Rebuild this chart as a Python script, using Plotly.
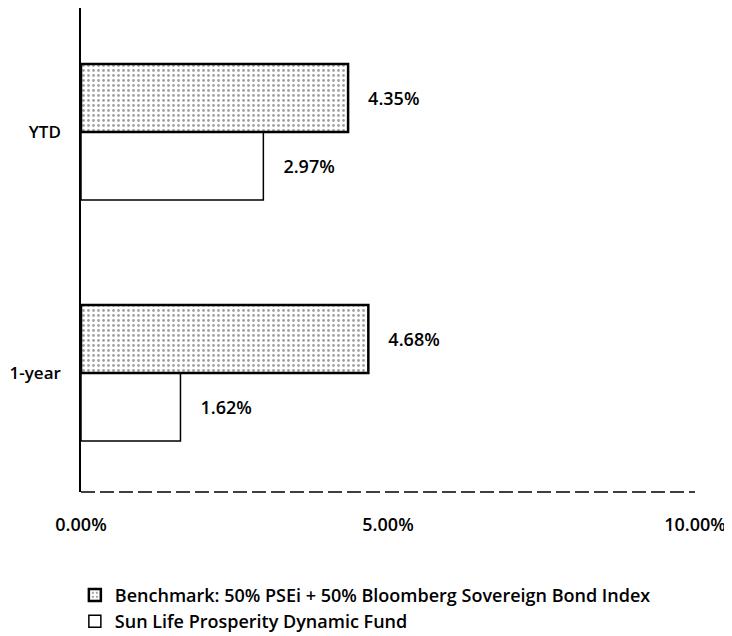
import plotly.graph_objects as go

categories = ["1-year", "YTD"]
fund_values = [1.62, 2.97]
benchmark_values = [4.68, 4.35]
fund_name = "Sun Life Prosperity Dynamic Fund"
benchmark_name = "Benchmark: 50% PSEi + 50% Bloomberg Sovereign Bond Index"
x_tick_vals = [0, 5, 10]
x_tick_text = ["0.00%", "5.00%", "10.00%"]

FONT = "Open Sans"
FS = 18
W = 600
pad = "\u00a0" * 3 + "\u2009"

fig = go.Figure()
fig.add_trace(go.Bar(
    y=categories, x=fund_values, orientation="h", name=fund_name,
    marker=dict(color="white", line=dict(color="black", width=1.5)),
    text=[f"{pad}{v:.2f}%" for v in fund_values], textposition="outside",
    textfont=dict(size=FS, color="black", family=FONT, weight=W), cliponaxis=False,
))
fig.add_trace(go.Bar(
    y=categories, x=benchmark_values, orientation="h", name=benchmark_name,
    marker=dict(color="white", line=dict(color="black", width=2.5),
                pattern=dict(shape=".", fgcolor="#444444", bgcolor="white",
                             size=5, solidity=0.25)),
    text=[f"{pad}{v:.2f}%" for v in benchmark_values], textposition="outside",
    textfont=dict(size=FS, color="black", family=FONT, weight=W), cliponaxis=False,
))

fig.add_shape(type="line", xref="x", yref="paper", x0=0, x1=10, y0=0, y1=0,
              line=dict(color="black", width=1.5, dash="14px,5px"))

fig.update_layout(
    width=732, height=636,
    margin=dict(l=73, r=45, t=0, b=152, autoexpand=False),
    paper_bgcolor="white", plot_bgcolor="white",
    barmode="group", bargap=0.436, bargroupgap=0,
    font=dict(family=FONT, size=FS, color="black", weight=W),
    showlegend=True,
    legend=dict(orientation="v", x=-0.01, xanchor="left", y=-0.175, yanchor="top",
                traceorder="reversed", font=dict(size=FS, family=FONT, weight=W),
                tracegroupgap=0, itemwidth=30),
    xaxis=dict(range=[0, 10], tickvals=x_tick_vals, ticktext=x_tick_text,
               showgrid=False, zeroline=False, showline=False, ticks="",
               automargin=False,
               ticklabelstandoff=20, tickfont=dict(size=FS, family=FONT, weight=W)),
    yaxis=dict(range=[-0.494, 1.5145], showgrid=False, zeroline=False,
               showline=True, linecolor="black", linewidth=1.5, ticks="",
               automargin=False,
               ticklabelstandoff=15, tickfont=dict(size=17, family=FONT, weight=W)),
)

fig.write_html("out.html")
